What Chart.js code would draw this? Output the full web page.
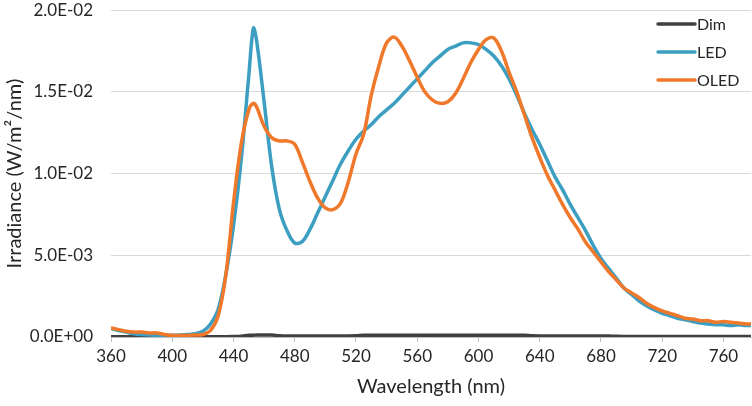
<!DOCTYPE html>
<html>
<head>
<meta charset="utf-8">
<script src="https://cdn.jsdelivr.net/npm/chart.js@4"></script>
<style>
  html, body { margin: 0; padding: 0; background: #fff; }
  #wrap { width: 752px; height: 406px; }
</style>
</head>
<body>
<div id="wrap"><canvas id="chart" width="752" height="406"></canvas></div>
<script>
// Wavelength samples (nm)
const wavelengths = [
  360, 365, 370, 375, 380, 385, 390, 395, 400, 405,
  410, 415, 420, 425, 430, 435, 440, 445, 450, 453, 455,
  460, 465, 470, 475, 480, 485, 490, 495, 500, 505,
  510, 515, 520, 525, 530, 535, 540, 545, 550, 555,
  560, 565, 570, 575, 580, 585, 590, 595, 600, 605,
  610, 615, 620, 625, 630, 635, 640, 645, 650, 655,
  660, 665, 670, 675, 680, 685, 690, 695, 700, 705,
  710, 715, 720, 725, 730, 735, 740, 745, 750, 755,
  760, 765, 770, 775, 778
];

// Irradiance in units of 1E-03 W/m2/nm
const dimValues = [
  0.02, 0.02, 0.02, 0.02, 0.02, 0.02, 0.02, 0.02, 0.02, 0.02,
  0.02, 0.02, 0.02, 0.02, 0.02, 0.02, 0.03, 0.05, 0.10, 0.11, 0.12,
  0.12, 0.12, 0.08, 0.06, 0.06, 0.06, 0.06, 0.06, 0.06, 0.06,
  0.06, 0.06, 0.07, 0.10, 0.10, 0.10, 0.10, 0.10, 0.10, 0.10,
  0.10, 0.10, 0.10, 0.10, 0.10, 0.10, 0.10, 0.10, 0.10, 0.10,
  0.10, 0.10, 0.10, 0.10, 0.10, 0.07, 0.06, 0.06, 0.06, 0.06,
  0.06, 0.06, 0.06, 0.06, 0.06, 0.06, 0.04, 0.03, 0.03, 0.03,
  0.03, 0.03, 0.03, 0.03, 0.03, 0.03, 0.03, 0.03, 0.03, 0.03,
  0.03, 0.03, 0.03, 0.03, 0.03
];

const ledValues = [
  0.50, 0.40, 0.30, 0.20, 0.15, 0.12, 0.10, 0.10, 0.10, 0.12,
  0.15, 0.20, 0.35, 0.80, 1.70, 3.80, 6.80, 10.8, 16.0, 18.9, 18.2,
  14.4, 10.4, 7.80, 6.50, 5.75, 5.85, 6.60, 7.60, 8.60, 9.60,
  10.6, 11.4, 12.1, 12.6, 13.0, 13.5, 13.9, 14.3, 14.8, 15.3,
  15.8, 16.3, 16.8, 17.2, 17.6, 17.8, 18.0, 18.0, 17.9, 17.6,
  17.2, 16.6, 15.8, 14.8, 13.7, 12.7, 11.8, 10.8, 9.80, 9.00,
  8.10, 7.30, 6.50, 5.60, 4.80, 4.20, 3.60, 3.00, 2.60, 2.20,
  1.90, 1.65, 1.45, 1.30, 1.15, 1.05, 0.95, 0.85, 0.80, 0.75,
  0.75, 0.70, 0.75, 0.70, 0.70
];

const oledValues = [
  0.55, 0.45, 0.35, 0.30, 0.30, 0.25, 0.25, 0.15, 0.10, 0.10,
  0.10, 0.12, 0.15, 0.40, 1.30, 3.80, 8.20, 11.8, 13.9, 14.3, 14.1,
  12.9, 12.2, 12.0, 12.0, 11.8, 10.7, 9.50, 8.50, 7.90, 7.80,
  8.20, 9.50, 11.2, 12.4, 14.8, 16.6, 18.0, 18.35, 17.8, 16.9,
  15.9, 15.0, 14.5, 14.3, 14.4, 14.9, 15.8, 16.8, 17.6, 18.2,
  18.3, 17.5, 16.2, 15.0, 13.6, 12.2, 11.0, 9.90, 9.00, 8.10,
  7.30, 6.60, 5.80, 5.20, 4.60, 4.00, 3.50, 3.00, 2.70, 2.40,
  2.05, 1.80, 1.60, 1.45, 1.30, 1.15, 1.10, 1.00, 1.00, 0.90,
  0.95, 0.90, 0.85, 0.80, 0.80
];

const seriesNames = ['Dim', 'LED', 'OLED'];
const seriesColors = ['#404040', '#3c9ec0', '#f0782a'];
const xTickLabels = [360, 400, 440, 480, 520, 560, 600, 640, 680, 720, 760];
const yTickStep = 0.005;

const FONT = 'Lato, "Open Sans", sans-serif';
const TEXT = '#262626';

function toPoints(values) {
  return wavelengths.map((w, i) => ({ x: w, y: values[i] / 1000 }));
}

// Excel style 2.0E-02
function sci(v) {
  const s = Number(v).toExponential(1).toUpperCase();
  const parts = s.split('E');
  let exp = parseInt(parts[1], 10);
  const sign = exp < 0 ? '-' : '+';
  exp = Math.abs(exp);
  return parts[0] + 'E' + sign + (exp < 10 ? '0' + exp : exp);
}

// Legend drawn inside plot, top right
const insideLegend = {
  id: 'insideLegend',
  afterDraw(chart) {
    const ctx = chart.ctx;
    ctx.save();
    ctx.font = '16px ' + FONT;
    ctx.textBaseline = 'middle';
    ctx.textAlign = 'left';
    chart.data.datasets.forEach((ds, i) => {
      const y = 24 + i * 28;
      ctx.strokeStyle = ds.borderColor;
      ctx.lineWidth = 3.5;
      ctx.lineCap = 'round';
      ctx.beginPath();
      ctx.moveTo(658, y);
      ctx.lineTo(695, y);
      ctx.stroke();
      ctx.fillStyle = TEXT;
      ctx.fillText(ds.label, 697, y + 1);
    });
    ctx.restore();
  }
};

const datasets = [dimValues, ledValues, oledValues].map((vals, i) => ({
  label: seriesNames[i],
  data: toPoints(vals),
  borderColor: seriesColors[i],
  backgroundColor: seriesColors[i],
  borderWidth: 3.5,
  pointRadius: 0,
  tension: 0.35,
  fill: false,
  order: 3 - i
}));

new Chart(document.getElementById('chart'), {
  type: 'line',
  data: { datasets },
  options: {
    responsive: false,
    animation: false,
    layout: { padding: { top: 10, right: 1, left: 0, bottom: 0 } },
    plugins: {
      legend: { display: false },
      tooltip: { enabled: false }
    },
    scales: {
      x: {
        type: 'linear',
        min: 360,
        max: 778,
        afterBuildTicks: axis => {
          axis.ticks = xTickLabels.map(v => ({ value: v }));
        },
        afterFit: scale => { scale.height = 69; },
        ticks: {
          color: TEXT,
          font: { family: FONT, size: 17 },
          padding: 4,
          maxRotation: 0,
          autoSkip: false
        },
        grid: {
          drawOnChartArea: false,
          drawTicks: true,
          tickLength: 5,
          color: '#bfbfbf'
        },
        border: { display: true, color: '#bfbfbf', width: 1 },
        title: {
          display: true,
          text: 'Wavelength (nm)',
          color: TEXT,
          font: { family: FONT, size: 20 },
          padding: { top: 0, bottom: 7 }
        }
      },
      y: {
        min: 0,
        max: 0.02,
        afterFit: scale => { scale.width = 111; },
        ticks: {
          stepSize: yTickStep,
          color: TEXT,
          font: { family: FONT, size: 17 },
          padding: 0,
          callback: v => sci(v)
        },
        grid: {
          color: '#d9d9d9',
          drawTicks: true,
          tickLength: 18,
          tickColor: 'rgba(0,0,0,0)'
        },
        border: { display: false },
        title: {
          display: true,
          text: 'Irradiance (W/m²/nm)',
          color: TEXT,
          font: { family: FONT, size: 20 },
          padding: { top: 3, bottom: 0 }
        }
      }
    }
  },
  plugins: [insideLegend]
});
</script>
</body>
</html>
